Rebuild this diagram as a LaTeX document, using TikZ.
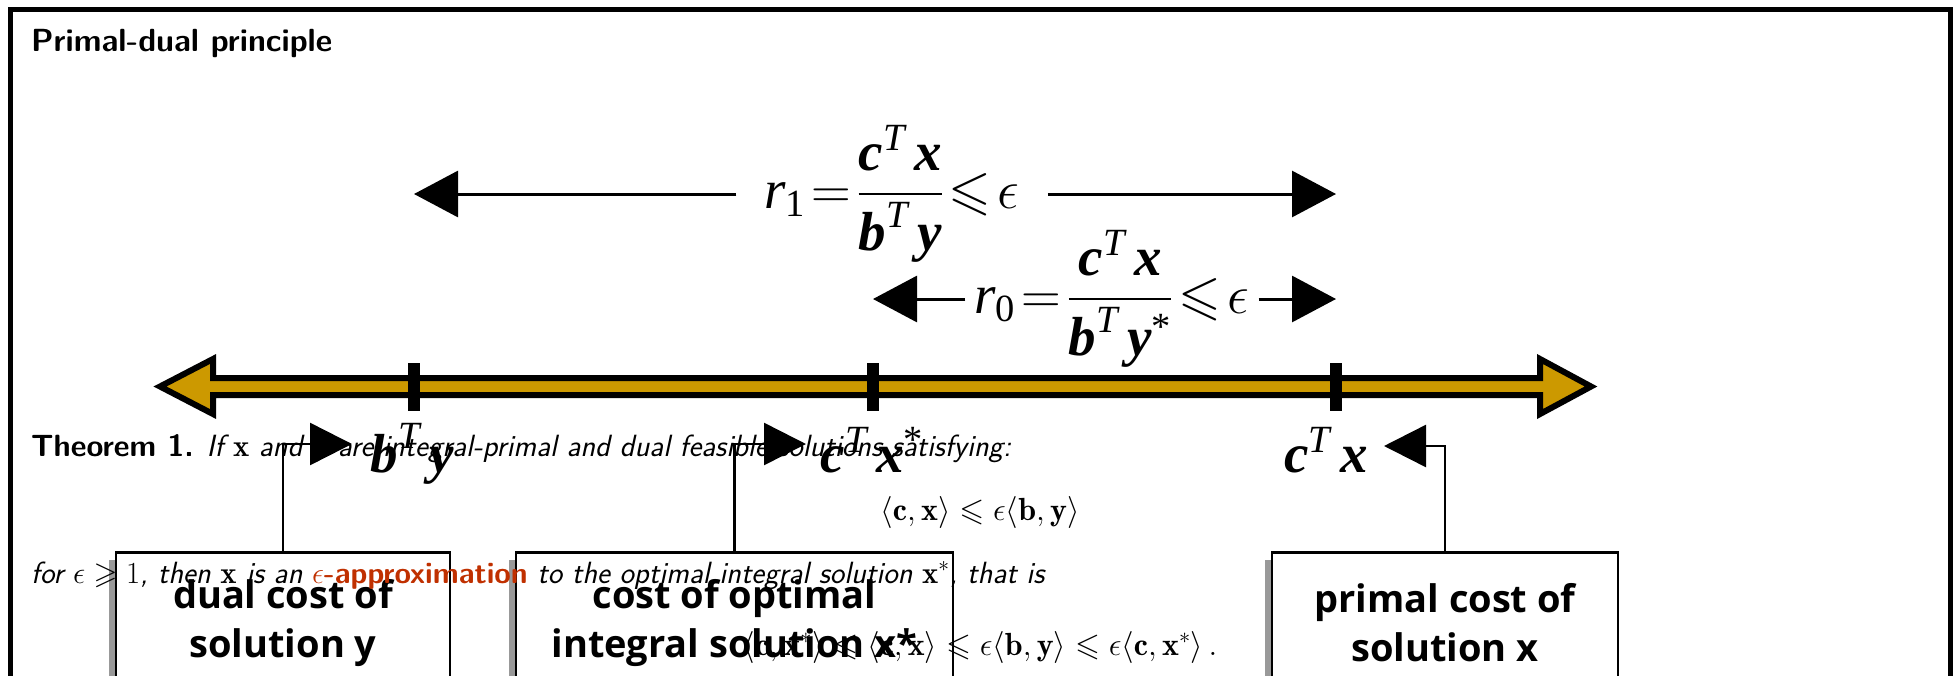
\documentclass[tikz,border=0pt]{standalone}
\usepackage{fix-cm}
\usepackage{amsmath, amssymb}
\usepackage{fontspec}
\usetikzlibrary{arrows.meta, shadows, positioning}

\newfontfamily\timesfont{Liberation Serif}
\newfontfamily\boxfont{Open Sans}
\definecolor{gold}{RGB}{204,153,0}
\definecolor{alertred}{RGB}{192,48,0}

\newcommand{\tbi}[1]{\text{\timesfont\bfseries\itshape #1}}
\newcommand{\tit}[1]{\text{\timesfont\itshape #1}}
\newcommand{\trm}[1]{\text{\timesfont #1}}
\newcommand{\cTx}{\tbi{c}^{\tit{T}}\,\tbi{x}}

\begin{document}
\begin{tikzpicture}[x=1pt, y=-1pt,
    tick/.style={fill=black, inner sep=0pt, minimum width=12pt, minimum height=48pt},
    bigtip/.style={-{Triangle[length=44pt,width=46pt]}, line width=3pt},
    elbow/.style={-{Triangle[length=42pt,width=42pt]}, line width=2.5pt},
    ratio/.style={font=\fontsize{55}{66}\selectfont, inner ysep=0pt},
    costlabel/.style={font=\fontsize{55}{66}\selectfont, inner sep=0pt, anchor=base},
    body/.style={font=\sffamily\fontsize{30.7}{37}\selectfont, inner sep=0pt},
    display/.style={font=\fontsize{32}{38}\selectfont, inner sep=0pt, anchor=base},
    costbox/.style={draw, line width=2.5pt, fill=white, anchor=north, minimum height=141pt,
        align=center, font=\boxfont\bfseries\fontsize{38}{49}\selectfont,
        drop shadow={shadow xshift=-7pt, shadow yshift=-8pt, fill=gray!80, opacity=1}}]

    % Frame and title
    \useasboundingbox (0,0) rectangle (1959,675);
    \clip (0,0) rectangle (1959,675);
    \draw[line width=5pt] (10,9) rectangle (1950,720);
    \node[anchor=base west, inner sep=0pt, font=\sffamily\bfseries\fontsize{32}{38}\selectfont] (title) at (31,51) {Primal-dual principle};

    % Golden axis with ticks
    \draw[line width=6pt, fill=gold, line join=miter] (160,386.5) -- (213,359) -- (213,378) -- (1540,378) -- (1540,359)
        -- (1591,386.5) -- (1540,414) -- (1540,395) -- (213,395) -- (213,414) -- cycle;
    \node[tick] (tdual) at (414,387) {};
    \node[tick] (topt) at (873,387) {};
    \node[tick] (tprim) at (1336,387) {};

    % Ratios
    \node[ratio, inner xsep=28pt] (rone) at (892,194) {$\tit{r}_{\trm{1}}\!=\!\dfrac{\cTx}{\tbi{b}^{\tit{T}}\,\tbi{y}}\!\leqslant\!\epsilon$};
    \coordinate (ronemid) at (892,194);
    \draw[bigtip] (rone.west |- ronemid) -- (tdual |- ronemid);
    \draw[bigtip] (rone.east |- ronemid) -- (tprim |- ronemid);

    \node[ratio, inner xsep=9pt] (rzero) at (1112,299) {$\tit{r}_{\trm{0}}\!=\!\dfrac{\cTx}{\tbi{b}^{\tit{T}}\,\tbi{y}^{\trm{*}}}\!\leqslant\!\epsilon$};
    \coordinate (rzeromid) at (1112,299);
    \draw[bigtip] (rzero.west |- rzeromid) -- (topt |- rzeromid);
    \draw[bigtip] (rzero.east |- rzeromid) -- (tprim |- rzeromid);

    % Costs on the axis
    \node[costlabel] (ldual) at (412,472) {$\tbi{b}^{\tit{T}}\,\tbi{y}$};
    \node[costlabel] (lopt) at (872,472) {$\tbi{c}^{\tit{T}}\,\tbi{x}^{\trm{*}}$};
    \node[costlabel] (lprim) at (1326,472) {$\cTx$};

    % Boxes
    \node[costbox, minimum width=334pt] (bdual) at (283,551) {dual cost of\\solution y};
    \node[costbox, minimum width=437pt] (bopt) at (734.5,551) {cost of optimal\\integral solution x*};
    \node[costbox, minimum width=346pt] (bprim) at (1445,551) {primal cost of\\solution x};

    \coordinate (adual) at (352,444);
    \coordinate (aopt) at (806,444);
    \coordinate (aprim) at (1384,446);
    \draw[elbow] (bdual.north) |- (adual);
    \draw[elbow] (bopt.north) |- (aopt);
    \draw[elbow] (bprim.north) |- (aprim);

    % Theorem
    \node[body, anchor=base west] (thm) at (31,456) {\textbf{Theorem 1.} \itshape If $\mathbf{x}$ and $\mathbf{y}$ are integral-primal and dual feasible solutions satisfying:};
    \node[display] (ineq) at (980,520) {$\langle\mathbf{c},\mathbf{x}\rangle \leqslant \epsilon\langle\mathbf{b},\mathbf{y}\rangle$};
    \node[body, anchor=base west] (approx) at (31,583) {\itshape for $\epsilon \geqslant 1$, then $\mathbf{x}$ is an {\upshape\bfseries\fontsize{30}{37}\selectfont\color{alertred}$\epsilon$-approximation} to the optimal integral solution $\mathbf{x}^*$, that is};
    \node[display] (chain) at (980,655) {$\langle\mathbf{c},\mathbf{x}^*\rangle \leqslant \langle\mathbf{c},\mathbf{x}\rangle \leqslant \epsilon\langle\mathbf{b},\mathbf{y}\rangle \leqslant \epsilon\langle\mathbf{c},\mathbf{x}^*\rangle\,.$};

\end{tikzpicture}
\end{document}
